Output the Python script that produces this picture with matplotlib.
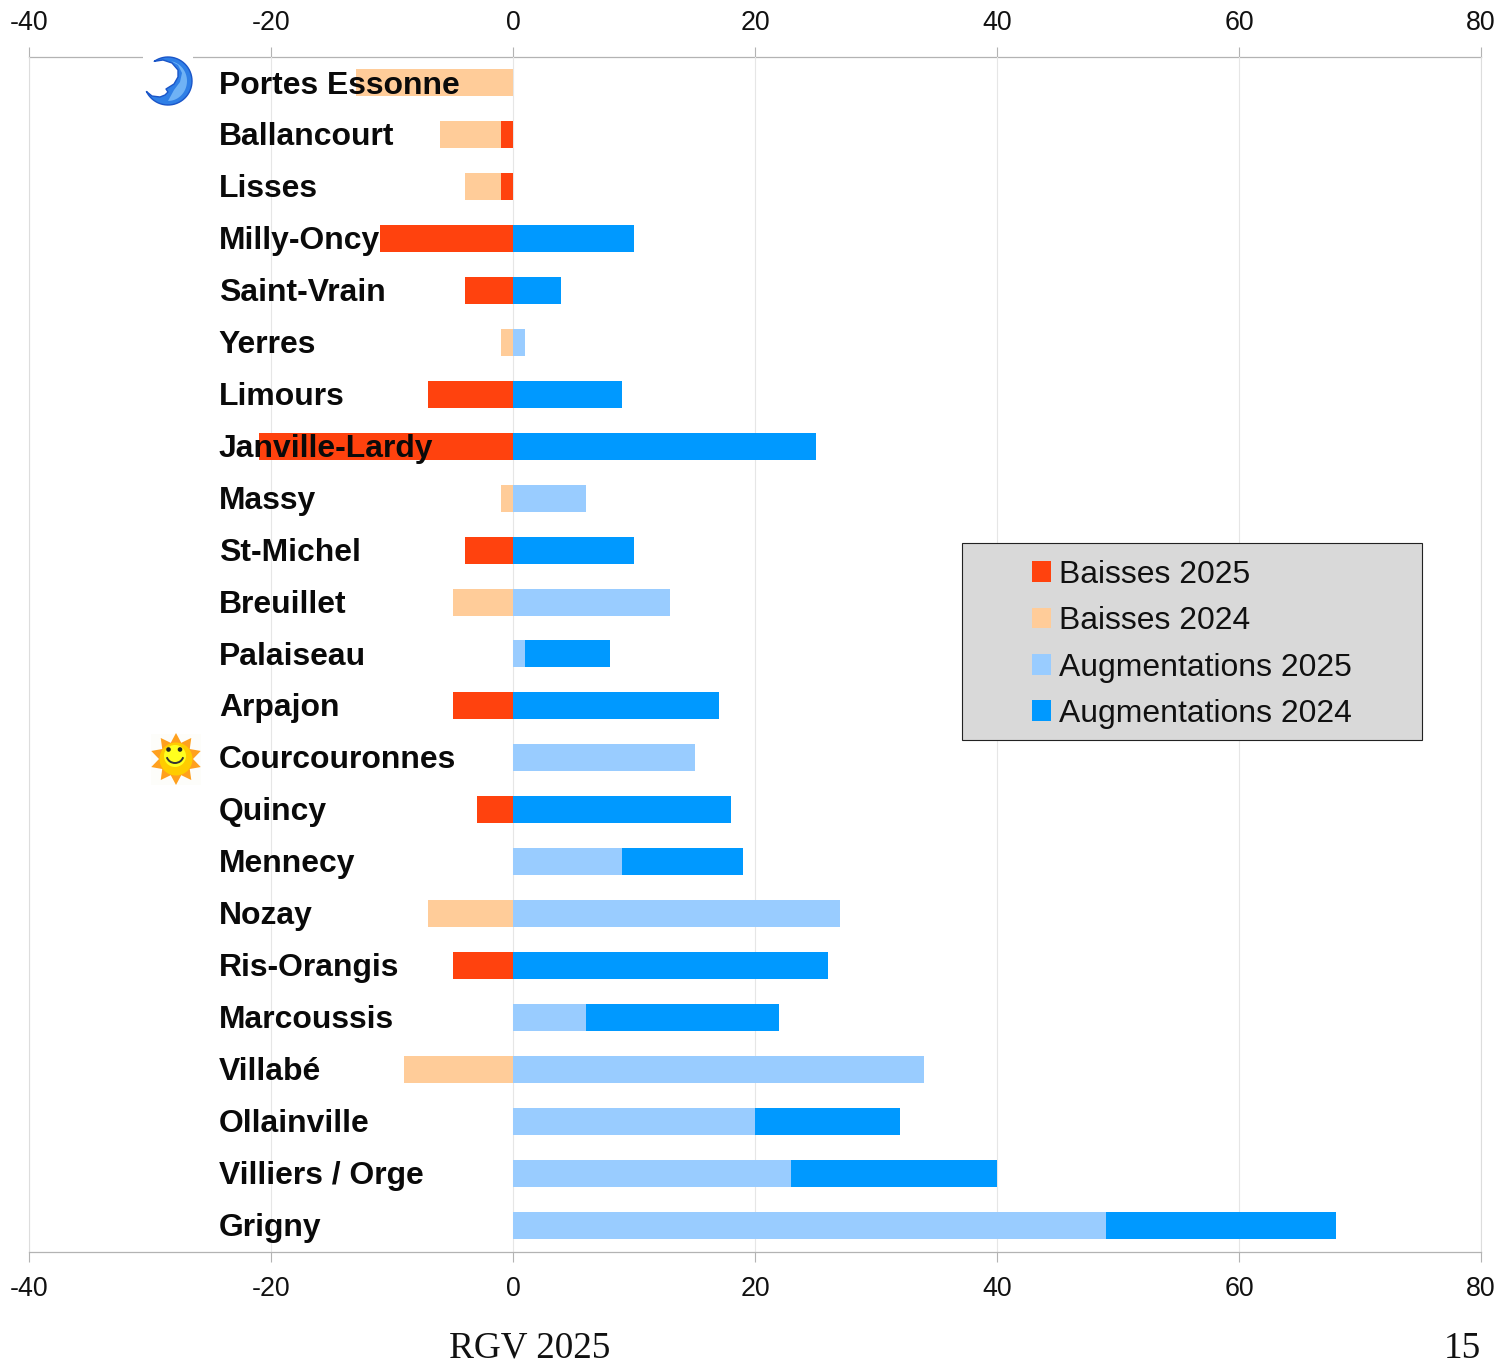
import numpy as np
import matplotlib
matplotlib.use('Agg')
import matplotlib.pyplot as plt
from matplotlib.patches import Rectangle, Polygon, Circle, Arc

plt.rcParams['font.family'] = ['Liberation Sans', 'DejaVu Sans']
plt.rcParams['axes.unicode_minus'] = False

communes = ['Portes Essonne', 'Ballancourt', 'Lisses', 'Milly-Oncy', 'Saint-Vrain', 'Yerres',
            'Limours', 'Janville-Lardy', 'Massy', 'St-Michel', 'Breuillet', 'Palaiseau',
            'Arpajon', 'Courcouronnes', 'Quincy', 'Mennecy', 'Nozay', 'Ris-Orangis',
            'Marcoussis', 'Villabé', 'Ollainville', 'Villiers / Orge', 'Grigny']
baisses_2025 = [0, 1, 1, 11, 4, 0, 7, 21, 0, 4, 0, 0, 5, 0, 3, 0, 0, 5, 0, 0, 0, 0, 0]
baisses_2024 = [13, 5, 3, 0, 0, 1, 0, 0, 1, 0, 5, 0, 0, 0, 0, 0, 7, 0, 0, 9, 0, 0, 0]
augm_2025 = [0, 0, 0, 0, 0, 1, 0, 0, 6, 0, 13, 1, 0, 15, 0, 9, 27, 0, 6, 34, 20, 23, 49]
augm_2024 = [0, 0, 0, 10, 4, 0, 9, 25, 0, 10, 0, 7, 17, 0, 18, 10, 0, 26, 16, 0, 12, 17, 19]
x_ticks = [-40, -20, 0, 20, 40, 60, 80]

red = '#ff420e'
peach = '#ffcc99'
light_blue = '#99ccff'
blue = '#0099ff'
W, H = 1501, 1362

fig = plt.figure(figsize=(W / 100, H / 100), dpi=100)
ax = fig.add_axes([29 / W, 1 - 1252 / H, (1481 - 29) / W, (1252 - 57) / H])

y = np.arange(len(communes))
b25 = np.array(baisses_2025)
b24 = np.array(baisses_2024)
a25 = np.array(augm_2025)
a24 = np.array(augm_2024)
h = 0.52
ax.barh(y, -b25, height=h, color=red, label='Baisses 2025', zorder=3)
ax.barh(y, -b24, left=-b25, height=h, color=peach, label='Baisses 2024', zorder=3)
ax.barh(y, a25, height=h, color=light_blue, label='Augmentations 2025', zorder=3)
ax.barh(y, a24, left=a25, height=h, color=blue, label='Augmentations 2024', zorder=3)

ax.set_xlim(-40, 80)
ax.set_ylim(len(communes) - 0.48, -0.5)
ax.set_xticks(x_ticks)
ax.set_yticks([])
ax.tick_params(axis='x', direction='out', length=7.2, width=0.8, color='#b3b3b3', labelsize=19.3,
               labelcolor='#111111', pad=10)

top = ax.secondary_xaxis('top')
top.set_xticks(x_ticks)
top.tick_params(axis='x', direction='out', length=7.2, width=0.8, color='#b3b3b3', labelsize=19.3,
                labelcolor='#111111', pad=8.2)
top.spines['top'].set_color('#b3b3b3')
top.spines['top'].set_linewidth(0.9)

ax.grid(True, axis='x', color='#e6e6e6', lw=0.8, zorder=0)
ax.spines['top'].set_visible(False)
ax.spines['bottom'].set_color('#b3b3b3')
ax.spines['bottom'].set_linewidth(0.9)
for side in ['left', 'right']:
    ax.spines[side].set_color('#dddddd')
    ax.spines[side].set_linewidth(0.8)

# commune names sit on top of the bars
for i, name in enumerate(communes):
    ax.text(-24.32, i + 0.05, name, fontsize=22.95, fontweight='bold', color='#0a0a0a',
            va='center', ha='left', zorder=5)

# overlay in pixel coordinates for icons and legend box
ov = fig.add_axes([0, 0, 1, 1], facecolor='none')
ov.set_xlim(0, W)
ov.set_ylim(H, 0)
ov.axis('off')

# legend
ov.add_patch(Rectangle((962, 543), 459.5, 196.5, fc='#d9d9d9', ec='#222222', lw=0.8, zorder=1))
handles, labels = ax.get_legend_handles_labels()
ov.legend(handles, labels, loc='upper left', bbox_to_anchor=(1031.5 / W, 1 - 560 / H),
          bbox_transform=fig.transFigure, frameon=False, fontsize=22.95, handlelength=0.62,
          handleheight=0.62, handletextpad=0.24, labelspacing=0.51, borderpad=0, borderaxespad=0,
          labelcolor='#111111')

# moon icon
ov.add_patch(Rectangle((143, 50), 50, 12, fc='white', ec='none', zorder=2))
t = np.radians(np.linspace(-125, 154, 50))
moon_outer = np.c_[168 + 24 * np.cos(t), 81 + 24 * np.sin(t)]
moon_inner = [(152, 96), (160, 97), (165, 95), (168, 92), (166, 89), (174, 84), (178, 77),
              (178, 70), (172, 63), (163, 60)]
ov.add_patch(Polygon(np.vstack([moon_outer, moon_inner]), closed=True, fc='#2f7fe6', ec='#1a55c8',
                     lw=1, joinstyle='round', zorder=3))
t = np.radians(np.linspace(-80, 90, 30))
shine_outer = np.c_[168 + 19 * np.cos(t), 81 + 20 * np.sin(t)]
shine_inner = [(174, 90), (180, 82), (182, 73), (178, 65)]
ov.add_patch(Polygon(np.vstack([shine_outer, shine_inner]), closed=True, fc='#6fb2f5', ec='none',
                     zorder=3.1))

# sun icon
ov.add_patch(Rectangle((151, 734), 50, 51, fc='#fdfdfa', ec='none', zorder=2))
n_pts = 20
ang = np.linspace(-np.pi / 2, 1.5 * np.pi, n_pts, endpoint=False)
rad = np.where(np.arange(n_pts) % 2 == 0, 26, 17)
star = np.c_[176 + rad * np.cos(ang), 759 + rad * np.sin(ang)]
ov.add_patch(Polygon(star, closed=True, fc='#ffa01e', ec='none', zorder=3))
ov.add_patch(Circle((176, 759), 16.5, fc='#ffcc00', ec='none', zorder=3.1))
ov.add_patch(Circle((175, 756), 11, fc='#ffff1e', ec='none', zorder=3.2))
ov.add_patch(Circle((168.5, 749.5), 2.3, fc='#222222', ec='none', zorder=3.3))
ov.add_patch(Circle((180, 749.5), 2.3, fc='#222222', ec='none', zorder=3.3))
ov.add_patch(Arc((175, 755), 17, 16, theta1=15, theta2=165, color='#333333', lw=1.4, zorder=3.3))

# footer
fig.text(449 / W, 1 - 1358 / H, 'RGV 2025', family='Liberation Serif', fontsize=26.8, color='#111111',
         ha='left', va='baseline')
fig.text(1481 / W, 1 - 1358 / H, '15', family='Liberation Serif', fontsize=26.8, color='#111111',
         ha='right', va='baseline')

fig.savefig('out.png', dpi=100)
